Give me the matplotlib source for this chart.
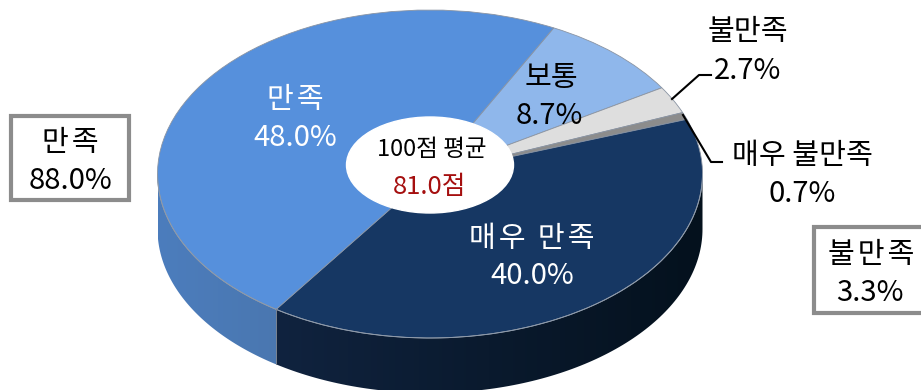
import numpy as np
import matplotlib
matplotlib.use("Agg")
import matplotlib.pyplot as plt
from matplotlib.colors import LinearSegmentedColormap
from matplotlib.patches import Ellipse, Polygon, Rectangle

plt.rcParams['font.family'] = ['Noto Sans CJK KR', 'DejaVu Sans']

# donnees
categories = ['보통', '불만족', '매우 불만족', '매우 만족', '만족']
valeurs = [8.7, 2.7, 0.7, 40.0, 48.0]
etiquettes = ['8.7%', '2.7%', '0.7%', '40.0%', '48.0%']
couleurs = ['#8FB7EB', '#DEDEDE', '#8C8C8C', '#163763', '#5690DC']
moyenne_titre = '100점 평균'
moyenne = '81.0점'
groupe_gauche = ['만족', '88.0%']
groupe_droite = ['불만족', '3.3%']

W, H = 921, 390
CX, CY, RX, RY = 430, 174, 272.5, 164
DEPTH = 55
START = 63
HAIR = '\u200a'


def dx(x):
    """pixel -> donnee en x"""
    return (x - CX) / RX


def dy(y):
    """pixel -> donnee en y"""
    return (CY - y) / RY


def espace(s):
    """ecarte un peu les lettres comme sur l'image"""
    return HAIR.join(s)


fig = plt.figure(figsize=(W / 100, H / 100), dpi=100)
ax = fig.add_axes([0, 0, 1, 1])

# le dessus du camembert
ax.pie(valeurs, colors=couleurs, startangle=START, counterclock=False, radius=1,
       wedgeprops={'edgecolor': '#8A94A3', 'linewidth': 0.6, 'zorder': 3})
ax.set_aspect('auto')

fractions = np.cumsum(valeurs) / np.sum(valeurs)
limite = (START - fractions[3] * 360) % 360  # entre les deux grandes parts
d = DEPTH / RY


def bord(a1, a2, c1, c2):
    """bord du camembert entre deux angles, avec un degrade gauche-droite"""
    t = np.radians(np.linspace(a1, a2, 120))
    x, y = np.cos(t), np.sin(t)
    pts = np.column_stack([np.r_[x, x[::-1]], np.r_[y, y[::-1] - d]])
    cmap = LinearSegmentedColormap.from_list('bord', [c1, c2])
    im = ax.imshow(np.linspace(0, 1, 256)[None, :], cmap=cmap, aspect='auto', zorder=1,
                   extent=[x.min(), x.max(), y.min() - d, y.max()])
    im.set_clip_path(Polygon(pts, transform=ax.transData))


bord(180, limite + 0.2, '#4C7DBD', '#4A77B0')
bord(limite, 360, '#10233F', '#04111D')
ax.set_xlim(dx(0), dx(W))
ax.set_ylim(dy(H), dy(0))

# trait clair du bord avant et separation
t = np.radians(np.linspace(180, 360, 200))
ax.plot(np.cos(t), np.sin(t), color='#8E9AAA', lw=0.7, zorder=4)
xl, yl = np.cos(np.radians(limite)), np.sin(np.radians(limite))
ax.plot([xl, xl], [yl, yl - d], color='#7C8593', lw=0.7, zorder=4)

# le centre
ax.add_patch(Ellipse((dx(430), dy(165)), 167 / RX, 96 / RY, color='white', zorder=5))
ax.text(dx(432), dy(150), moyenne_titre, fontsize=17, color='black', ha='center', va='center', zorder=6)
ax.text(dx(430), dy(187), moyenne, fontsize=18.5, color='#A50F0F', ha='center', va='center', zorder=6)


def label(x, y, s, couleur='black', taille=21):
    # +3 : le centrage de la police remonte le texte
    ax.text(dx(x), dy(y + 3), s, fontsize=taille, color=couleur, ha='center', va='center', zorder=6)


label(295, 97, espace(categories[4]), 'white')
label(295, 135, etiquettes[4], 'white')
label(532, 236, espace(categories[3]), 'white')
label(532, 273, etiquettes[3], 'white')
label(551, 75, categories[0])
label(549, 113, etiquettes[0])
label(748, 29, categories[1])
label(748, 68, etiquettes[1])
label(802, 153, categories[2])
label(802, 191, etiquettes[2])

# les traits de rappel
ax.plot([dx(672), dx(699), dx(711)], [dy(99), dy(75), dy(75)], color='black', lw=1.5, zorder=6)
ax.plot([dx(683), dx(711), dx(722)], [dy(115), dy(162), dy(162)], color='black', lw=1.5, zorder=6)

# les deux cadres
ax.add_patch(Rectangle((dx(11), dy(200)), 118 / RX, 84 / RY, facecolor='white',
                       edgecolor='#8C8C8C', lw=3, zorder=5))
ax.add_patch(Rectangle((dx(814), dy(313)), 120 / RX, 86 / RY, facecolor='white',
                       edgecolor='#8C8C8C', lw=3, zorder=5))
label(70, 140, espace(groupe_gauche[0]))
label(70, 178, groupe_gauche[1])
label(871, 252, espace(groupe_droite[0]))
label(870, 290, groupe_droite[1])

fig.savefig('out.png', dpi=100)
